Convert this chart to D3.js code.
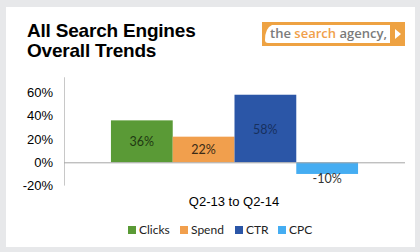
<!DOCTYPE html>
<html>
<head>
<meta charset="utf-8">
<script src="https://cdn.jsdelivr.net/npm/d3@7"></script>
<style>
  html, body { margin: 0; padding: 0; background: #e7e8ea; }
  svg { display: block; }
</style>
</head>
<body>
<div id="chart"></div>
<script>
// data
var categories = ["Clicks", "Spend", "CTR", "CPC"];
var values = [36, 22, 58, -10];
var colors = ["#5a9a36", "#f19f4d", "#2b56a7", "#45adf2"];
var labelColors = ["#1f3812", "#3b2a16", "#17305e", "#333333"];
var yTicks = [-20, 0, 20, 40, 60];
var xLabel = "Q2-13 to Q2-14";
var titleLines = ["All Search Engines", "Overall Trends"];

var W = 420, H = 252;

var svg = d3.select("#chart")
  .append("svg")
    .attr("width", W)
    .attr("height", H);

// background panel
svg.append("rect")
  .attr("x", 6).attr("y", 7)
  .attr("width", 409).attr("height", 240)
  .attr("fill", "#ffffff");

// title
svg.append("g").selectAll("text")
  .data(titleLines)
  .enter()
  .append("text")
    .attr("x", 27)
    .attr("y", (d, i) => 37 + i * 20)
    .style("font-family", "'Liberation Sans', Arial, sans-serif")
    .style("font-weight", "bold")
    .style("font-size", "19px")
    .style("letter-spacing", "-0.2px")
    .attr("fill", "#000")
    .text(d => d);

// logo box
var logo = svg.append("g");
logo.append("rect")
  .attr("x", 262).attr("y", 22)
  .attr("width", 143).attr("height", 24)
  .attr("fill", "#eea242");
logo.append("path")
  .attr("d", "M272,25 L390,25 L390,43 L268,43 Q265,43 265,40 Q265,28 272,25 Z")
  .attr("fill", "#ffffff");
logo.append("path")
  .attr("d", "M395,29 L401,34 L395,39 Z")
  .attr("fill", "#ffffff");
var logoText = logo.append("text")
  .attr("x", 270).attr("y", 38)
  .style("font-family", "'Open Sans', sans-serif")
  .style("font-size", "12px")
  .style("font-weight", "600")
  .attr("textLength", 117)
  .attr("lengthAdjust", "spacingAndGlyphs");
logoText.append("tspan").attr("fill", "#7b7b7b").text("the ");
logoText.append("tspan").attr("fill", "#f0a04a").text("search");
logoText.append("tspan").attr("fill", "#7b7b7b").text(" agency,");

// scales
var x = d3.scaleBand()
  .domain(categories)
  .range([64, 405])
  .paddingInner(0)
  .paddingOuter(0.76);

var y = d3.scaleLinear()
  .domain([-20, 60])
  .range([185.6, 92.4]);

// y axis
var yAxis = svg.append("g")
  .attr("transform", "translate(64,0)")
  .call(d3.axisLeft(y).tickValues(yTicks).tickSize(0).tickPadding(11)
    .tickFormat(d => d + "%"));
yAxis.select(".domain").remove();
yAxis.selectAll("text")
  .style("font-family", "'Liberation Sans', Arial, sans-serif")
  .style("font-size", "13px")
  .attr("fill", "#000");

svg.append("line")
  .attr("x1", 64.5).attr("x2", 64.5)
  .attr("y1", y(73)).attr("y2", y(-20))
  .attr("stroke", "#c8c8c8")
  .attr("stroke-width", 1);

// bars
svg.selectAll("rect.bar")
  .data(values)
  .enter()
  .append("rect")
    .attr("class", "bar")
    .attr("x", (d, i) => x(categories[i]))
    .attr("y", d => y(Math.max(0, d)))
    .attr("width", x.bandwidth())
    .attr("height", d => Math.abs(y(d) - y(0)))
    .attr("fill", (d, i) => colors[i]);

// zero line
svg.append("line")
  .attr("x1", 64).attr("x2", 405)
  .attr("y1", y(0) + 0.5).attr("y2", y(0) + 0.5)
  .attr("stroke", "#a6a6a6")
  .attr("stroke-width", 1);

// value labels
svg.selectAll("text.val")
  .data(values)
  .enter()
  .append("text")
    .attr("class", "val")
    .attr("x", (d, i) => x(categories[i]) + x.bandwidth() / 2)
    .attr("y", d => d >= 0 ? (y(d) + y(0)) / 2 + 5 : y(d) + 9)
    .attr("text-anchor", "middle")
    .style("font-family", "Lato, sans-serif")
    .style("font-size", "12.5px")
    .attr("fill", (d, i) => labelColors[i])
    .text(d => d + "%");

// x label
svg.append("text")
  .attr("x", 234)
  .attr("y", 206)
  .attr("text-anchor", "middle")
  .style("font-family", "'Liberation Sans', Arial, sans-serif")
  .style("font-size", "13px")
  .attr("fill", "#000")
  .text(xLabel);

// legend
var legendX = [128, 180, 235, 278];
var legend = svg.append("g").selectAll("g")
  .data(categories)
  .enter()
  .append("g")
    .attr("transform", (d, i) => "translate(" + legendX[i] + ",226)");
legend.append("rect")
  .attr("width", 8).attr("height", 8)
  .attr("fill", (d, i) => colors[i]);
legend.append("text")
  .attr("x", 11).attr("y", 8)
  .style("font-family", "Lato, sans-serif")
  .style("font-size", "12px")
  .attr("fill", "#222")
  .text(d => d);
</script>
</body>
</html>
